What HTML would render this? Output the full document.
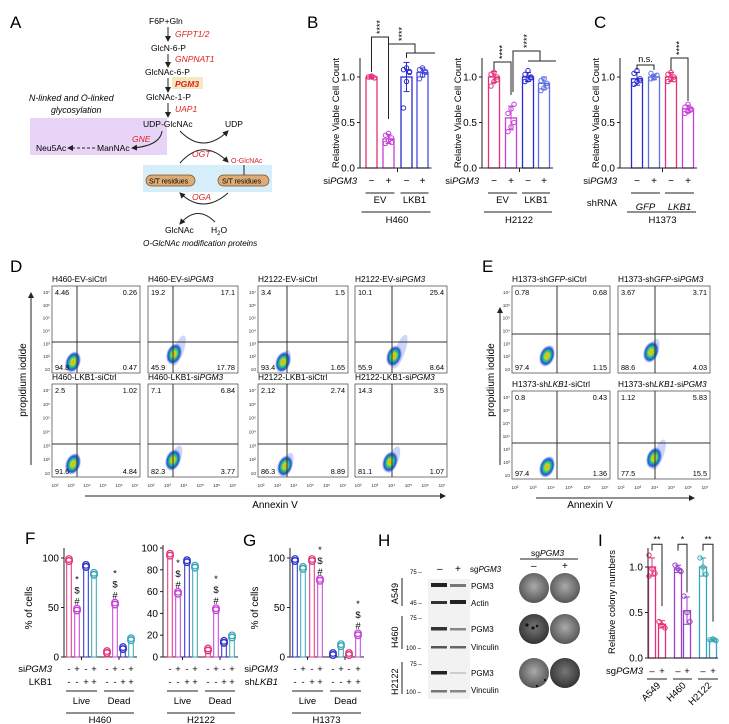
<!DOCTYPE html>
<html><head><meta charset="utf-8">
<style>
html,body{margin:0;padding:0;background:#fff;}
svg{display:block;font-family:"Liberation Sans",Arial,sans-serif;}
</style></head>
<body>
<svg id="fig" width="729" height="724" viewBox="0 0 729 724" xmlns="http://www.w3.org/2000/svg">
<defs>
<marker id="ah" markerWidth="6" markerHeight="6" refX="5" refY="3" orient="auto" markerUnits="userSpaceOnUse"><path d="M0,0 L6,3 L0,6 z" fill="#222"/></marker>
<radialGradient id="cloud" cx="50%" cy="50%" r="50%">
<stop offset="0" stop-color="#f0a020"/><stop offset="0.25" stop-color="#c8d820"/><stop offset="0.5" stop-color="#20c080"/><stop offset="0.75" stop-color="#2050e0"/><stop offset="1" stop-color="#6080f0" stop-opacity="0.1"/>
</radialGradient>
<radialGradient id="dish" cx="50%" cy="45%" r="55%"><stop offset="0" stop-color="#aaa"/><stop offset="1" stop-color="#555"/></radialGradient>
<radialGradient id="dish2" cx="50%" cy="45%" r="55%"><stop offset="0" stop-color="#777"/><stop offset="1" stop-color="#333"/></radialGradient>
</defs>

<!-- Panel A -->
<g font-size="8.5">
<text x="10" y="28" font-size="17">A</text>
<rect x="30" y="118" width="137" height="37" fill="#e8d4f6"/>
<rect x="143" y="165" width="129" height="27" fill="#d6eefa"/>
<text x="149" y="24">F6P+Gln</text>
<line x1="168" y1="27" x2="168" y2="41" stroke="#222" marker-end="url(#ah)"/>
<text x="175" y="37" fill="#e02020" font-style="italic">GFPT1/2</text>
<text x="151" y="51">GlcN-6-P</text>
<line x1="168" y1="54" x2="168" y2="67" stroke="#222" marker-end="url(#ah)"/>
<text x="175" y="62" fill="#e02020" font-style="italic">GNPNAT1</text>
<text x="145" y="75">GlcNAc-6-P</text>
<line x1="168" y1="78" x2="168" y2="92" stroke="#222" marker-end="url(#ah)"/>
<rect x="172" y="77" width="31" height="12" fill="#f3e9c0"/>
<text x="175" y="87" fill="#e02020" font-style="italic" font-weight="bold">PGM3</text>
<text x="146" y="100">GlcNAc-1-P</text>
<line x1="168" y1="103" x2="168" y2="117" stroke="#222" marker-end="url(#ah)"/>
<text x="175" y="112" fill="#e02020" font-style="italic">UAP1</text>
<text x="29" y="101" font-style="italic" font-size="8.8">N-linked and O-linked</text>
<text x="51" y="113" font-style="italic" font-size="8.8">glycosylation</text>
<text x="143" y="127">UDP-GlcNAc</text>
<text x="225" y="127">UDP</text>
<path d="M162,131 Q160,146 132,148" fill="none" stroke="#222" marker-end="url(#ah)"/>
<text x="132" y="142" fill="#e02020" font-style="italic">GNE</text>
<text x="36" y="151">Neu5Ac</text>
<line x1="95" y1="148" x2="68" y2="148" stroke="#222" stroke-dasharray="3,2" marker-end="url(#ah)"/>
<text x="97" y="151">ManNAc</text>
<path d="M180,131 Q203,155 228,131" fill="none" stroke="#222" marker-end="url(#ah)"/>
<path d="M180,163 Q203,137 228,162" fill="none" stroke="#222" marker-end="url(#ah)"/>
<text x="192" y="157" fill="#e02020" font-style="italic">OGT</text>
<text x="231" y="163" fill="#e02020" font-size="7">O-GlcNAc</text>
<line x1="244" y1="165" x2="244" y2="175" stroke="#222"/>
<rect x="146" y="175" width="49" height="11" rx="5.5" fill="#dcab76" stroke="#7a5020" stroke-width="0.7"/>
<text x="149" y="183.5" font-size="7">S/T residues</text>
<rect x="218" y="175" width="51" height="11" rx="5.5" fill="#dcab76" stroke="#7a5020" stroke-width="0.7"/>
<text x="222" y="183.5" font-size="7">S/T residues</text>
<path d="M228,193 Q203,215 180,193" fill="none" stroke="#222" marker-end="url(#ah)"/>
<text x="192" y="200" fill="#e02020" font-style="italic">OGA</text>
<path d="M215,222 Q197,204 180,224" fill="none" stroke="#222" marker-end="url(#ah)"/>
<text x="165" y="233">GlcNAc</text>
<text x="211" y="233">H<tspan font-size="6" dy="2">2</tspan><tspan dy="-2">O</tspan></text>
<text x="143" y="246" font-style="italic" font-size="8.2">O-GlcNAc modification proteins</text>
</g>

<text x="307" y="28" font-size="17">B</text>
<text x="594" y="28" font-size="17">C</text>
<text x="10" y="272" font-size="17">D</text>
<text x="482" y="272" font-size="17">E</text>
<text x="25" y="544" font-size="17">F</text>
<text x="243" y="546" font-size="17">G</text>
<text x="378" y="546" font-size="17">H</text>
<text x="598" y="546" font-size="17">I</text>

<!-- Panel H western blots (static) -->
<g font-size="8">
<text x="437" y="572" font-size="10">–</text><text x="455" y="572" font-size="10">+</text>
<text x="470" y="572">sg<tspan font-style="italic">PGM3</tspan></text>
<line x1="402" y1="578" x2="402" y2="606" stroke="#222"/>
<line x1="402" y1="616" x2="402" y2="649" stroke="#222"/>
<line x1="402" y1="662" x2="402" y2="694" stroke="#222"/>
<text transform="translate(398,604) rotate(-90)" font-size="9">A549</text>
<text transform="translate(398,648) rotate(-90)" font-size="9">H460</text>
<text transform="translate(398,695) rotate(-90)" font-size="9">H2122</text>
<text x="410" y="574" font-size="6">75 –</text><text x="410" y="605" font-size="6">45 –</text>
<text x="410" y="620" font-size="6">75 –</text><text x="406" y="650" font-size="6">100 –</text>
<text x="410" y="666" font-size="6">75 –</text><text x="406" y="694" font-size="6">100 –</text>
<rect x="428" y="579" width="42" height="120" fill="#f2f2f2"/>
<rect x="431" y="583" width="16" height="4" fill="#222"/>
<rect x="450" y="584" width="16" height="3" fill="#777"/>
<rect x="431" y="601" width="16" height="3" fill="#333"/><rect x="450" y="600" width="16" height="4" fill="#222"/>
<rect x="431" y="627" width="16" height="3.5" fill="#333"/><rect x="450" y="628" width="16" height="2.5" fill="#888"/>
<rect x="431" y="646" width="16" height="2.5" fill="#555"/><rect x="450" y="646" width="16" height="2.5" fill="#666"/>
<rect x="431" y="671" width="16" height="3.5" fill="#222"/><rect x="450" y="672" width="16" height="2" fill="#ccc"/>
<rect x="431" y="690" width="16" height="2.5" fill="#777"/><rect x="450" y="690" width="16" height="2.5" fill="#888"/>
<text x="471" y="589">PGM3</text><text x="471" y="606">Actin</text>
<text x="471" y="632">PGM3</text><text x="471" y="650">Vinculin</text>
<text x="471" y="676">PGM3</text><text x="471" y="693">Vinculin</text>
<text x="531" y="556" font-size="8.5">sg<tspan font-style="italic">PGM3</tspan></text>
<line x1="520" y1="559" x2="578" y2="559" stroke="#222"/>
<text x="531" y="569" font-size="10">–</text><text x="562" y="569" font-size="10">+</text>
<circle cx="534" cy="588" r="15" fill="url(#dish)"/>
<circle cx="565" cy="588" r="15" fill="url(#dish)"/>
<circle cx="534" cy="629" r="15" fill="url(#dish2)"/>
<circle cx="565" cy="629" r="15" fill="url(#dish)"/>
<circle cx="534" cy="673" r="15" fill="url(#dish)"/>
<circle cx="565" cy="673" r="15" fill="url(#dish2)"/>
<circle cx="527" cy="625" r="1.6" fill="#111"/><circle cx="533" cy="628" r="1.6" fill="#111"/><circle cx="537" cy="626" r="1.3" fill="#111"/>
<circle cx="545" cy="680" r="1.1" fill="#111"/><circle cx="537" cy="686" r="1.1" fill="#111"/>
</g>

<g id="charts"></g>
</svg>

<script>
// ---------------- Data ----------------
const bCats = ['−','+','−','+'];
const b1Means = [1.0, 0.32, 1.0, 1.05];
const b1Err = [0.02, 0.05, 0.16, 0.05];
const b1Pts = [[1.0,1.01,0.99,1.0,1.0],[0.27,0.3,0.33,0.36,0.38,0.28],[0.66,0.95,1.05,1.08,1.1,1.06],[0.98,1.02,1.05,1.08,1.1,1.06]];
const b2Means = [1.0, 0.55, 1.0, 0.93];
const b2Err = [0.06, 0.13, 0.05, 0.07];
const b2Pts = [[0.9,0.95,1.0,1.03,1.05,0.97],[0.4,0.45,0.5,0.6,0.65,0.7],[0.95,0.97,1.0,1.03,1.07,0.99],[0.85,0.88,0.93,0.96,0.98,0.9]];
const cMeans = [0.98, 1.0, 1.0, 0.65];
const cErr = [0.07, 0.03, 0.05, 0.04];
const cPts = [[0.92,0.95,0.98,1.04,1.07,0.96],[0.98,1.0,1.02,1.04,0.99],[0.95,0.98,1.0,1.03,1.05,0.97],[0.6,0.62,0.65,0.67,0.7,0.64]];
const yTicksB = [0, 0.5, 1.0];

const fH460Live = [97, 47, 91, 83];
const fH460Dead = [4, 53, 8, 17];
const fH2122Live = [93, 58, 87, 82];
const fH2122Dead = [6, 43, 13, 18];
const gLive = [97, 89, 97, 77];
const gDead = [2, 11, 2, 22];
const fTicks1 = [0, 50, 100];
const fTicks2 = [0, 20, 40, 60, 80, 100];

const iCats = ['A549','H460','H2122'];
const iMeans = [1.0, 0.37, 0.98, 0.52, 1.0, 0.2];
const iErr = [0.1, 0.04, 0.04, 0.15, 0.1, 0.02];
const iPts = [[1.13,0.98,0.93,0.9],[0.4,0.36,0.33],[1.02,0.98,0.95],[0.68,0.5,0.4],[1.1,1.0,0.92],[0.2,0.21,0.19]];
const iTicks = [0, 0.5, 1.0];

const IT = s => '<tspan font-style="italic">' + s + '</tspan>';
const flowTitlesD = ['H460-EV-siCtrl','H460-EV-si'+IT('PGM3'),'H2122-EV-siCtrl','H2122-EV-si'+IT('PGM3'),
 'H460-LKB1-siCtrl','H460-LKB1-si'+IT('PGM3'),'H2122-LKB1-siCtrl','H2122-LKB1-si'+IT('PGM3')];
const flowQuadD = [['4.46','0.26','94.8','0.47'],['19.2','17.1','45.9','17.78'],['3.4','1.5','93.4','1.65'],['10.1','25.4','55.9','8.64'],
 ['2.5','1.02','91.6','4.84'],['7.1','6.84','82.3','3.77'],['2.12','2.74','86.3','8.89'],['14.3','3.5','81.1','1.07']];
const flowTitlesE = ['H1373-sh'+IT('GFP')+'-siCtrl','H1373-sh'+IT('GFP')+'-si'+IT('PGM3'),'H1373-sh'+IT('LKB1')+'-siCtrl','H1373-sh'+IT('LKB1')+'-si'+IT('PGM3')];
const flowQuadE = [['0.78','0.68','97.4','1.15'],['3.67','3.71','88.6','4.03'],['0.8','0.43','97.4','1.36'],['1.12','5.83','77.5','15.5']];

// ---------------- Helpers ----------------
const NS = 'http://www.w3.org/2000/svg';
const root = document.getElementById('charts');
function mk(tag, attrs, parent, txt) {
  const e = document.createElementNS(NS, tag);
  for (const k in attrs) e.setAttribute(k, attrs[k]);
  if (txt !== undefined) e.innerHTML = txt;
  (parent || root).appendChild(e);
  return e;
}
const PINK='#e5307a', MAG='#c640d6', BLUE='#2b2bd0', LBLUE='#5f70e2', TEAL='#36a6b6', PURP='#9a40c8';

function yAxis(g, ax, y0, ppu, top, ticks, fmt, fs) {
  const a = mk('line', {x1:ax, y1:top, x2:ax, y2:y0, stroke:'#222', 'stroke-width':1}, g);
  
  ticks.forEach(t => {
    const y = y0 - t*ppu;
    mk('line', {x1:ax-3, y1:y, x2:ax, y2:y, stroke:'#222'}, g);
    const tx = mk('text', {x:ax-5, y:y+3.5, 'text-anchor':'end', 'font-size':fs||10}, g, fmt(t));
    
  });
}

function barChart(name, ax, y0, ppu, xs, means, errs, pts, colors, w) {
  const g = mk('g', {}, root);
  
  
  means.forEach((m, i) => {
    const x = xs[i], y = y0 - m*ppu;
    const r = mk('rect', {x:x-w/2, y:y, width:w, height:m*ppu, fill:'none', stroke:colors[i], 'stroke-width':1.3}, g);
    
    
    const e = errs[i];
    mk('line', {x1:x, y1:y0-(m+e)*ppu, x2:x, y2:y0-(m-e)*ppu, stroke:colors[i], 'stroke-width':1}, g);
    mk('line', {x1:x-3, y1:y0-(m+e)*ppu, x2:x+3, y2:y0-(m+e)*ppu, stroke:colors[i]}, g);
    mk('line', {x1:x-3, y1:y0-(m-e)*ppu, x2:x+3, y2:y0-(m-e)*ppu, stroke:colors[i]}, g);
    pts[i].forEach((p, j) => {
      const dx = ((j % 3) - 1) * 3;
      const c = mk('circle', {cx:x+dx, cy:y0-p*ppu, r:2.2, fill:'none', stroke:colors[i], 'stroke-width':1}, g);
      
    });
  });
  return g;
}

function bracket(g, x1, x2, yTop, yL, yR, label) {
  mk('path', {d:`M${x1},${yL} V${yTop} H${x2} V${yR}`, fill:'none', stroke:'#222', 'stroke-width':1}, g);
  const t = mk('text', {transform:`translate(${(x1+x2)/2+3},${yTop-3}) rotate(-90)`, 'font-size':9}, g, label);
  
}

function ylabel(g, x, y, txt, fs) {
  const t = mk('text', {transform:`translate(${x},${y}) rotate(-90)`, 'text-anchor':'middle', 'font-size':fs||10}, g, txt);
  
}

// ---------------- Panel B / C ----------------
const fmt1 = v => v.toFixed(1);
function bcChart(name, ax, xs, means, errs, pts, colors, groups, cell, shrna) {
  const y0 = 168, ppu = 91;
  const g = barChart(name, ax, y0, ppu, xs, means, errs, pts, colors, 11);
  yAxis(g, ax, y0, ppu, 58, yTicksB, fmt1, 10);
  mk('line', {x1:ax, y1:y0, x2:xs[3]+9, y2:y0, stroke:'#222'}, g);
  mk('line', {x1:(xs[1]+xs[2])/2, y1:y0, x2:(xs[1]+xs[2])/2, y2:y0+4, stroke:'#222'}, g);
  ylabel(g, ax-21, 113, 'Relative Viable Cell Count', 9.5);
  mk('text', {x:ax-3, y:184, 'text-anchor':'end', 'font-size':9.5}, g, 'si<tspan font-style="italic">PGM3</tspan>');
  xs.forEach((x, i) => mk('text', {x:x, y:184, 'text-anchor':'middle', 'font-size':10}, g, bCats[i]));
  let gy = 199;
  if (shrna) { mk('text', {x:ax-3, y:206, 'text-anchor':'end', 'font-size':9.5}, g, 'shRNA'); gy = 206; }
  mk('line', {x1:xs[0]-6, y1:193, x2:xs[1]+6, y2:193, stroke:'#222'}, g);
  mk('line', {x1:xs[2]-6, y1:193, x2:xs[3]+6, y2:193, stroke:'#222'}, g);
  mk('text', {x:(xs[0]+xs[1])/2, y:gy+4, 'text-anchor':'middle', 'font-size':9.5}, g, groups[0]);
  mk('text', {x:(xs[2]+xs[3])/2, y:gy+4, 'text-anchor':'middle', 'font-size':9.5}, g, groups[1]);
  mk('line', {x1:xs[0]-10, y1:212, x2:xs[3]+8, y2:212, stroke:'#222'}, g);
  mk('text', {x:(xs[0]+xs[3])/2, y:223, 'text-anchor':'middle', 'font-size':9.5}, g, cell);
  return g;
}
const gB1 = bcChart('chart-b-h460', 360, [371.5,388.5,406.5,422.5], b1Means, b1Err, b1Pts, [PINK,MAG,BLUE,'#4a4ae0'], ['EV','LKB1'], 'H460');
bracket(gB1, 371.5, 388.5, 37, 72, 119, '****');
mk('path', {d:'M388.5,111 V44 H415 V53 M406.5,58 V53 H435', fill:'none', stroke:'#222'}, gB1);
mk('text', {transform:'translate(405,41) rotate(-90)', 'font-size':9}, gB1, '****');
const gB2 = bcChart('chart-b-h2122', 482, [494,511,528,544], b2Means, b2Err, b2Pts, [PINK,MAG,BLUE,LBLUE], ['EV','LKB1'], 'H2122');
bracket(gB2, 494, 511, 62, 70, 95, '****');
mk('path', {d:'M513,92 V51 H540 V61 M528,61 H556', fill:'none', stroke:'#222'}, gB2);
mk('text', {transform:'translate(530,48) rotate(-90)', 'font-size':9}, gB2, '****');
const gC = bcChart('chart-c-h1373', 620, [637,654,671,688], cMeans, cErr, cPts, [BLUE,LBLUE,PINK,MAG], ['<tspan font-style="italic">GFP</tspan>','<tspan font-style="italic">LKB1</tspan>'], 'H1373', true);
mk('path', {d:'M637,70 V65 H654 V70', fill:'none', stroke:'#222'}, gC);
mk('text', {x:645.5, y:62, 'text-anchor':'middle', 'font-size':9}, gC, 'n.s.');
bracket(gC, 671, 688, 58, 70, 101, '****');

// ---------------- Flow plots ----------------
function flowPlot(x, y, w, h, vx, hy, title, q, cloud, yTicks, xTicks) {
  const g = mk('g', {}, root);
  
  
  mk('text', {x:x, y:y-4, 'font-size':8.3}, g, title);
  const cx = x + vx - 4 + cloud[0], cy = y + hy + 20 + cloud[1];
  mk('ellipse', {cx:cx+cloud[2]*0.4, cy:cy-cloud[2]*0.6, rx:5, ry:8+cloud[2], fill:'#6f86ef', opacity:0.35, transform:`rotate(20 ${cx} ${cy})`}, g);
  mk('ellipse', {cx:cx, cy:cy, rx:7.5, ry:11, fill:'url(#cloud)', transform:`rotate(20 ${cx} ${cy})`}, g);
  const b = mk('rect', {x:x, y:y, width:w, height:h, fill:'none', stroke:'#555', 'stroke-width':0.8}, g);
  
  mk('line', {x1:x+vx, y1:y, x2:x+vx, y2:y+h, stroke:'#333', 'stroke-width':1}, g);
  mk('line', {x1:x, y1:y+hy, x2:x+w, y2:y+hy, stroke:'#333', 'stroke-width':1}, g);
  const fs = 7.3;
  mk('text', {x:x+3, y:y+9, 'font-size':fs}, g, q[0]);
  mk('text', {x:x+w-3, y:y+9, 'font-size':fs, 'text-anchor':'end'}, g, q[1]);
  mk('text', {x:x+3, y:y+h-3, 'font-size':fs}, g, q[2]);
  mk('text', {x:x+w-3, y:y+h-3, 'font-size':fs, 'text-anchor':'end'}, g, q[3]);
  const lab = ['10','10²','10³','10⁴','10⁵','10⁶','10⁷'];
  if (yTicks) lab.forEach((l, i) => {
    const yy = y + h - 4 - i*(h-10)/6;
    mk('text', {x:x-2, y:yy+2, 'font-size':4.8, 'text-anchor':'end', fill:'#333'}, g, l);
  });
  if (xTicks) ['10²','10³','10⁴','10⁵','10⁶','10⁷'].forEach((l, i) => {
    const xx = x + 3 + i*(w-8)/5;
    mk('text', {x:xx, y:y+h+10, 'font-size':4.8, 'text-anchor':'middle', fill:'#333'}, g, l);
  });
  return g;
}
const dCols = [[52,88,25],[148,90,25],[258,90,29],[355,92,37]];
const dRows = [[286,87,56],[384,93,60]];
const dCloud = [[0,0,0],[5,-8,8],[0,0,3],[6,-6,10],[0,0,2],[4,-4,5],[2,2,4],[2,-2,6]];
flowTitlesD.forEach((t, i) => {
  const c = dCols[i%4], r = dRows[Math.floor(i/4)];
  flowPlot(c[0], r[0], c[1], r[1], c[2], r[2], t, flowQuadD[i], dCloud[i], i%2===0, i>=4);
});
const eCols = [[512,98,45],[618,92,37]];
const eRows = [[286,87,48],[391,88,52]];
const eCloud = [[-6,2,2],[0,-2,4],[-6,4,2],[3,-5,8]];
flowTitlesE.forEach((t, i) => {
  const c = eCols[i%2], r = eRows[Math.floor(i/2)];
  flowPlot(c[0], r[0], c[1], r[1], c[2], r[2], t, flowQuadE[i], eCloud[i], i%2===0, i>=2);
});
mk('text', {transform:'translate(26,380) rotate(-90)', 'text-anchor':'middle', 'font-size':10}, root, 'propidium iodide');
mk('line', {x1:31, y1:465, x2:31, y2:293, stroke:'#222', 'marker-end':'url(#ah)'});
mk('line', {x1:85, y1:496, x2:445, y2:496, stroke:'#222', 'marker-end':'url(#ah)'});
mk('text', {x:275, y:508, 'text-anchor':'middle', 'font-size':10}, root, 'Annexin V');
mk('text', {transform:'translate(494,380) rotate(-90)', 'text-anchor':'middle', 'font-size':10}, root, 'propidium iodide');
mk('line', {x1:500, y1:465, x2:500, y2:308, stroke:'#222', 'marker-end':'url(#ah)'});
mk('line', {x1:536, y1:498, x2:694, y2:498, stroke:'#222', 'marker-end':'url(#ah)'});
mk('text', {x:590, y:508, 'text-anchor':'middle', 'font-size':10}, root, 'Annexin V');

// ---------------- Panel F / G lollipops ----------------
function lolli(name, ax, y0, ppu, top, ticks, xsLive, xsDead, live, dead, colors, rowLabels, cell, starLive, starDead) {
  const g = mk('g', {}, root);
  
  
  yAxis(g, ax, y0, ppu, top, ticks, v => String(v), 10);
  mk('line', {x1:ax, y1:y0, x2:xsDead[3]+6, y2:y0, stroke:'#222'}, g);
  [[xsLive, live], [xsDead, dead]].forEach(([xs, vals]) => {
    vals.forEach((v, i) => {
      const x = xs[i], y = y0 - v*ppu;
      const r = mk('rect', {x:x-2.3, y:y, width:4.6, height:v*ppu, fill:'none', stroke:colors[i], 'stroke-width':1}, g);
      
      const c = mk('circle', {cx:x, cy:y, r:3.3, fill:'#fff', stroke:colors[i], 'stroke-width':1.4}, g);
      
      const c2 = mk('circle', {cx:x, cy:y-2, r:3.3, fill:'none', stroke:colors[i], 'stroke-width':1.2}, g);
      
    });
    mk('line', {x1:(xs[1]+xs[2])/2, y1:y0, x2:(xs[1]+xs[2])/2, y2:y0+3, stroke:'#222'}, g);
  });
  const sym = ['*','$','#'];
  [[xsLive, live, starLive], [xsDead, dead, starDead]].forEach(([xs, vals, idx]) => {
    idx.forEach(i => {
      const yb = y0 - vals[i]*ppu - 6;
      sym.forEach((s, k) => mk('text', {x:xs[i], y:yb - (2-k)*11, 'text-anchor':'middle', 'font-size':9.5}, g, s));
    });
  });
  mk('text', {x:ax-12, y:672, 'text-anchor':'end', 'font-size':9.5}, g, rowLabels[0]);
  mk('text', {x:ax-12, y:685, 'text-anchor':'end', 'font-size':9.5}, g, rowLabels[1]);
  [xsLive, xsDead].forEach(xs => {
    ['-','+','-','+'].forEach((s, i) => mk('text', {x:xs[i], y:672, 'text-anchor':'middle', 'font-size':9.5}, g, s));
    ['-','-','+','+'].forEach((s, i) => mk('text', {x:xs[i], y:685, 'text-anchor':'middle', 'font-size':9.5}, g, s));
    mk('line', {x1:xs[0]-3, y1:691, x2:xs[3]+3, y2:691, stroke:'#222'}, g);
  });
  mk('text', {x:(xsLive[0]+xsLive[3])/2, y:704, 'text-anchor':'middle', 'font-size':9.5}, g, 'Live');
  mk('text', {x:(xsDead[0]+xsDead[3])/2, y:704, 'text-anchor':'middle', 'font-size':9.5}, g, 'Dead');
  mk('line', {x1:xsLive[0]-3, y1:713, x2:xsDead[3]+3, y2:713, stroke:'#222'}, g);
  mk('text', {x:(xsLive[0]+xsDead[3])/2, y:723, 'text-anchor':'middle', 'font-size':9.5}, g, cell);
  return g;
}
const siLab = 'si<tspan font-style="italic">PGM3</tspan>';
const g1 = lolli('chart-f-h460', 64, 657, 0.99, 548, fTicks1, [69,77,86,94], [107,115,123,131], fH460Live, fH460Dead, [PINK,MAG,BLUE,TEAL], [siLab,'LKB1'], 'H460', [1], [1]);
ylabel(g1, 32, 608, '% of cells', 10);
lolli('chart-f-h2122', 163, 657, 1.09, 545, fTicks2, [170,178,187,195], [208,216,224,232], fH2122Live, fH2122Dead, [PINK,MAG,BLUE,TEAL], ['',''], 'H2122', [1], [1]);
const g3 = lolli('chart-g-h1373', 290, 657, 0.99, 548, fTicks1, [295,303,312,320], [333,341,349,358], gLive, gDead, [BLUE,TEAL,PINK,MAG], [siLab,'sh<tspan font-style="italic">LKB1</tspan>'], 'H1373', [3], [3]);
ylabel(g3, 258, 608, '% of cells', 10);

// ---------------- Panel I ----------------
(function(){
  const ax = 648, y0 = 658, ppu = 91;
  const xs = [652,662,678,687,703,713];
  const colors = [PINK,PINK,PURP,PURP,TEAL,TEAL];
  const g = barChart('chart-i-colony', ax, y0, ppu, xs, iMeans, iErr, iPts, colors, 7);
  yAxis(g, ax, y0, ppu, 548, iTicks, fmt1, 10);
  mk('line', {x1:ax, y1:y0, x2:718, y2:y0, stroke:'#222'}, g);
  ylabel(g, 615, 602, 'Relative colony numbers', 9.5);
  mk('text', {x:643, y:674, 'text-anchor':'end', 'font-size':9.5}, g, 'sg<tspan font-style="italic">PGM3</tspan>');
  const sig = ['**','*','**'];
  iCats.forEach((c, k) => {
    const a = xs[2*k], b = xs[2*k+1];
    mk('text', {x:a, y:674, 'text-anchor':'middle', 'font-size':9.5}, g, '–');
    mk('text', {x:b, y:674, 'text-anchor':'middle', 'font-size':9.5}, g, '+');
    mk('line', {x1:a-5, y1:679, x2:b+5, y2:679, stroke:'#222'}, g);
    const t = mk('text', {transform:`translate(${(a+b)/2+4},${686}) rotate(-45)`, 'text-anchor':'end', 'font-size':9.5}, g, c);
    
    mk('path', {d:`M${a},${y0-1.18*ppu} V${y0-1.25*ppu} H${b} V${y0-(iMeans[2*k+1]+0.2)*ppu}`, fill:'none', stroke:'#222'}, g);
    mk('text', {x:(a+b)/2, y:y0-1.27*ppu, 'text-anchor':'middle', 'font-size':9}, g, sig[k]);
  });
})();
</script>
</body></html>
